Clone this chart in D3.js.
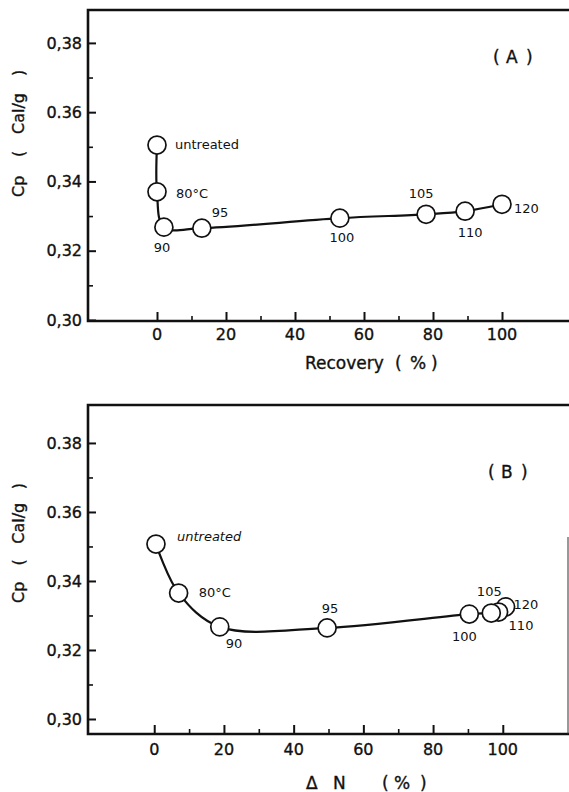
<!DOCTYPE html>
<html>
<head>
<meta charset="utf-8">
<script src="https://cdn.jsdelivr.net/npm/d3@7"></script>
<style>
  html, body { margin: 0; padding: 0; background: #fff; }
  svg { display: block; }
  text { font-family: "DejaVu Sans", sans-serif; fill: #111; }
  text.heavy { stroke: #111; stroke-width: 0.35px; }
</style>
</head>
<body>
<svg id="chart" width="569" height="792"></svg>
<script>
// treatment labels (same for both panels)
var treatLabels = ["untreated", "80°C", "90", "95", "100", "105", "110", "120"];

// panel A : recovery (%) vs Cp
var recoveryA = [0, 0, 2, 13, 53, 78, 89.3, 100];
var cpA       = [0.3505, 0.3370, 0.3268, 0.3265, 0.3294, 0.3305, 0.3314, 0.3334];

// panel B : delta N (%) vs Cp
var deltaNB = [0.5, 7, 18.8, 49.6, 90.4, 96.7, 98.8, 100.8];
var cpB     = [0.3507, 0.3365, 0.3267, 0.3264, 0.3304, 0.3307, 0.3310, 0.3325];

// axis ticks
var yMajor = [0.30, 0.32, 0.34, 0.36, 0.38];
var yMinor = [0.31, 0.33, 0.35, 0.37];
var xMajor = [0, 20, 40, 60, 80, 100];
var xMinor = [10, 30, 50, 70, 90];
var yTickTextA = ["0,30", "0,32", "0,34", "0.36", "0,38"];
var yTickTextB = ["0,30", "0,32", "0,34", "0.36", "0.38"];

var svg = d3.select("#chart");

// label placement for annotations (dx, dy, anchor) - pixel offsets from the point
var annA = [[18, 4, "start"], [19, 6, "start"], [-2, 25, "middle"], [10, -11, "start"],
            [2, 24, "middle"], [-5, -16, "middle"], [5, 26, "middle"], [12, 9, "start"]];
var annB = [[21, -3, "start"], [20, 4, "start"], [6, 21, "start"], [3, -15, "middle"],
            [-5, 27, "middle"], [-2, -17, "middle"], [10, 18, "start"], [8, 2, "start"]];

var drawPanel = function(o){
	var g = svg.append("g");
	var x = d3.scaleLinear().domain(o.xDom).range(o.xRange);
	var y = d3.scaleLinear().domain(o.yDom).range(o.yRange);
	var left = o.xRange[0], bottom = o.yRange[0], top = o.yRange[1];

	// frame : left, top, bottom
	g.append("path")
		.attr("d", "M569," + top + "H" + left + "V" + bottom + "H569")
		.attr("fill", "none").attr("stroke", "#111").attr("stroke-width", 2.6);
	if(o.rightEdge){
		g.append("line").attr("x1", 568).attr("x2", 568)
			.attr("y1", o.rightEdge).attr("y2", bottom)
			.attr("stroke", "#333").attr("stroke-width", 1);
	}

	// y ticks (inward)
	var yAx = d3.axisRight(y).tickValues(yMajor).tickSize(8).tickFormat("");
	g.append("g").attr("transform", "translate(" + left + ",0)").call(yAx)
		.call(function(s){ s.select(".domain").remove(); s.selectAll("line").attr("stroke", "#111").attr("stroke-width", 2); });
	var yAx2 = d3.axisRight(y).tickValues(yMinor).tickSize(5).tickFormat("");
	g.append("g").attr("transform", "translate(" + left + ",0)").call(yAx2)
		.call(function(s){ s.select(".domain").remove(); s.selectAll("line").attr("stroke", "#111").attr("stroke-width", 1.6); });

	g.selectAll("text.ytl").data(yMajor).enter().append("text")
		.attr("class", "ytl heavy")
		.attr("x", left - 6).attr("y", function(d){ return y(d); })
		.attr("dy", "0.36em").attr("text-anchor", "end")
		.attr("font-size", "16px")
		.text(function(d, i){ return o.yText[i]; });

	// x ticks (inward)
	var xAx = d3.axisTop(x).tickValues(xMajor).tickSize(9).tickFormat("");
	g.append("g").attr("transform", "translate(0," + bottom + ")").call(xAx)
		.call(function(s){ s.select(".domain").remove(); s.selectAll("line").attr("stroke", "#111").attr("stroke-width", 2); });
	var xAx2 = d3.axisTop(x).tickValues(xMinor).tickSize(5).tickFormat("");
	g.append("g").attr("transform", "translate(0," + bottom + ")").call(xAx2)
		.call(function(s){ s.select(".domain").remove(); s.selectAll("line").attr("stroke", "#111").attr("stroke-width", 1.6); });

	g.selectAll("text.xtl").data(xMajor).enter().append("text")
		.attr("class", "xtl heavy")
		.attr("x", function(d){ return x(d); }).attr("y", o.xLabelY)
		.attr("text-anchor", "middle").attr("font-size", "16px")
		.text(function(d){ return d; });

	// y title, rotated
	var yt = g.append("text")
		.attr("class", "heavy")
		.attr("transform", "translate(24," + o.yTitleBottom + ") rotate(-90)")
		.attr("font-size", "16px");
	[["Cp", 0], ["(", 40], ["Cal/g", 63], [")", 121]].forEach(function(p){
		yt.append("tspan").attr("x", p[1] * o.yTitleScale).text(p[0]);
	});

	// x title
	var xt = g.append("text").attr("class", "heavy").attr("y", o.xTitleY).attr("font-size", "17px");
	o.xTitle.forEach(function(p){
		xt.append("tspan").attr("x", p[1]).text(p[0]);
	});

	// panel letter
	var pl = g.append("text").attr("class", "heavy").attr("y", o.letterY).attr("font-size", "17px");
	[["(", o.letterX], [o.letter, o.letterX + 13], [")", o.letterX + 33]].forEach(function(p){
		pl.append("tspan").attr("x", p[1]).text(p[0]);
	});

	// curve + points
	var pts = o.xs.map(function(v, i){ return {x: v, y: o.ys[i], label: treatLabels[i], ann: o.ann[i]}; });
	var line = d3.line()
		.x(function(d){ return x(d.x); })
		.y(function(d){ return y(d.y); })
		.curve(d3.curveCatmullRom.alpha(0.5));
	g.append("path").datum(pts)
		.attr("d", line).attr("fill", "none")
		.attr("stroke", "#111").attr("stroke-width", 2.2);

	g.selectAll("circle.pt").data(pts.slice().reverse()).enter().append("circle")
		.attr("class", "pt")
		.attr("cx", function(d){ return x(d.x); })
		.attr("cy", function(d){ return y(d.y); })
		.attr("r", 9)
		.attr("fill", "#fff").attr("stroke", "#111").attr("stroke-width", 1.7);

	g.selectAll("text.ann").data(pts).enter().append("text")
		.attr("class", "ann")
		.attr("x", function(d){ return x(d.x) + d.ann[0]; })
		.attr("y", function(d){ return y(d.y) + d.ann[1]; })
		.attr("text-anchor", function(d){ return d.ann[2]; })
		.attr("font-size", "13px")
		.attr("font-style", function(d, i){ return (o.italicFirst && i == 0) ? "italic" : "normal"; })
		.text(function(d){ return d.label; });
};

drawPanel({
	xDom: [-20, 120], xRange: [88, 571],
	yDom: [0.2997, 0.3895], yRange: [321, 10],
	xs: recoveryA, ys: cpA, ann: annA, yText: yTickTextA,
	xLabelY: 340, yTitleBottom: 197, yTitleScale: 1,
	xTitle: [["Recovery", 305], ["(", 395], ["%", 410], [")", 431]], xTitleY: 369,
	letter: "A", letterX: 493, letterY: 63
});

drawPanel({
	xDom: [-19, 120], xRange: [88, 572.5],
	yDom: [0.29565, 0.391], yRange: [734, 405],
	xs: deltaNB, ys: cpB, ann: annB, yText: yTickTextB,
	xLabelY: 755, yTitleBottom: 603, yTitleScale: 0.94,
	xTitle: [["Δ", 306], ["N", 333], ["(", 382], ["%", 394], [")", 420]], xTitleY: 789,
	letter: "B", letterX: 488, letterY: 478, italicFirst: true, rightEdge: 537
});
</script>
</body>
</html>
